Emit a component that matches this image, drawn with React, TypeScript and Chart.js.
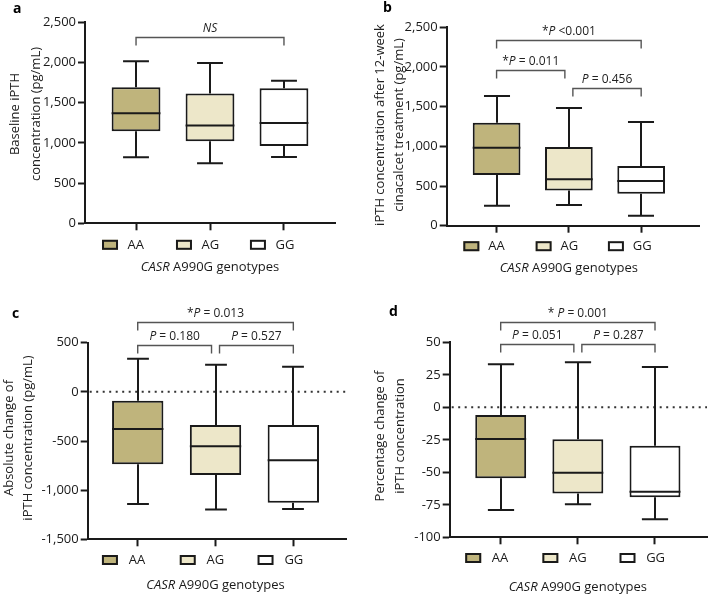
import React, { useEffect, useRef } from 'react';
import { Chart, registerables } from 'chart.js';

Chart.register(...registerables);

const INK = '#1a1a1a';
const FONT = '"Open Sans", "DejaVu Sans", sans-serif';

// ---- shared categories ----
const genotypes = ['AA', 'AG', 'GG'];
const boxColors = ['#BFB47C', '#EDE7C9', '#FFFFFF'];

// ---- panel a: baseline iPTH (pg/mL) ----
const aMin = [821, 746, 825];
const aQ1 = [1144, 1020, 962];
const aMedian = [1368, 1215, 1248];
const aQ3 = [1691, 1613, 1679];
const aMax = [2015, 1995, 1774];
const aTicks = [0, 500, 1000, 1500, 2000, 2500];

// ---- panel b: iPTH after 12-week cinacalcet (pg/mL) ----
const bMin = [252, 261, 126];
const bQ1 = [639, 445, 403];
const bMedian = [983, 584, 563];
const bQ3 = [1298, 992, 752];
const bMax = [1634, 1483, 1307];
const bTicks = [0, 500, 1000, 1500, 2000, 2500];

// ---- panel c: absolute change (pg/mL) ----
const cMin = [-1141, -1198, -1192];
const cQ1 = [-737, -846, -1127];
const cMedian = [-378, -554, -697];
const cQ3 = [-90, -337, -337];
const cMax = [337, 276, 256];
const cTicks = [-1500, -1000, -500, 0, 500];

// ---- panel d: percentage change ----
const dMin = [-79, -74.6, -86.2];
const dQ1 = [-54.6, -66.4, -69.2];
const dMedian = [-24.4, -50.3, -64.9];
const dQ3 = [-5.9, -24.6, -29.5];
const dMax = [33.1, 34.6, 31];
const dTicks = [-100, -75, -50, -25, 0, 25, 50];

// ---- significance brackets ----
type Bracket = { from: number; to: number; y: number; label: string };
const aBrackets: Bracket[] = [{ from: 0, to: 2, y: 2313, label: 'NS' }];
const bBrackets: Bracket[] = [
  { from: 0, to: 2, y: 2340, label: '*P <0.001' },
  { from: 0, to: 1, y: 1962, label: '*P = 0.011' },
  { from: 1, to: 2, y: 1731, label: 'P = 0.456' },
];
const cBrackets: Bracket[] = [
  { from: 0, to: 2, y: 714, label: '*P = 0.013' },
  { from: 0, to: 1, y: 476, label: 'P = 0.180' },
  { from: 1, to: 2, y: 476, label: 'P = 0.527' },
];
const dBrackets: Bracket[] = [
  { from: 0, to: 2, y: 65.9, label: '* P = 0.001' },
  { from: 0, to: 1, y: 48.5, label: 'P = 0.051' },
  { from: 1, to: 2, y: 48.5, label: 'P = 0.287' },
];

type Panel = {
  letter: string;
  letterPos: [number, number];
  offsetX: number;
  offsetY: number;
  width: number;
  height: number;
  area: { left: number; top: number; right: number; bottom: number };
  xMin: number;
  xMax: number;
  yMin: number;
  yMax: number;
  yTicks: number[];
  mins: number[];
  q1: number[];
  med: number[];
  q3: number[];
  maxs: number[];
  brackets: Bracket[];
  yTitle: string[];
  yTitleX: number[];
  yTitleY: number;
  legendDy: number;
  xTitleDy: number;
  zeroLine: boolean;
  capFrac: number;
};

const panels: Panel[] = [
  {
    letter: 'a', letterPos: [13, 9], offsetX: 0, offsetY: 0, width: 354, height: 295,
    area: { left: 85, top: 22.3, right: 335, bottom: 223.3 },
    xMin: -0.69, xMax: 2.69, yMin: 0, yMax: 2500, yTicks: aTicks,
    mins: aMin, q1: aQ1, med: aMedian, q3: aQ3, maxs: aMax, brackets: aBrackets,
    yTitle: ['Baseline iPTH', 'concentration (pg/mL)'], yTitleX: [15, 36], yTitleY: 114,
    legendDy: 21.5, xTitleDy: 43.7, zeroLine: false, capFrac: 0.35,
  },
  {
    letter: 'b', letterPos: [29, 8], offsetX: 354, offsetY: 0, width: 354, height: 295,
    area: { left: 92.7, top: 27.3, right: 345, bottom: 225.7 },
    xMin: -0.69, xMax: 2.8, yMin: 0, yMax: 2500, yTicks: bTicks,
    mins: bMin, q1: bQ1, med: bMedian, q3: bQ3, maxs: bMax, brackets: bBrackets,
    yTitle: ['iPTH concentration after 12-week', 'cinacalcet treatment (pg/mL)'], yTitleX: [26.7, 45.5], yTitleY: 125,
    legendDy: 20.5, xTitleDy: 42.3, zeroLine: false, capFrac: 0.36,
  },
  {
    letter: 'c', letterPos: [12, 19], offsetX: 0, offsetY: 295, width: 354, height: 300,
    area: { left: 87.7, top: 47.7, right: 346.7, bottom: 244.3 },
    xMin: -0.643, xMax: 2.686, yMin: -1500, yMax: 500, yTicks: cTicks,
    mins: cMin, q1: cQ1, med: cMedian, q3: cQ3, maxs: cMax, brackets: cBrackets,
    yTitle: ['Absolute change of', 'iPTH concentration (pg/mL)'], yTitleX: [9, 28.5], yTitleY: 143,
    legendDy: 20.7, xTitleDy: 45.7, zeroLine: true, capFrac: 0.28,
  },
  {
    letter: 'd', letterPos: [35, 17], offsetX: 354, offsetY: 295, width: 354, height: 300,
    area: { left: 95.7, top: 47.3, right: 353, bottom: 242.3 },
    xMin: -0.661, xMax: 2.674, yMin: -100, yMax: 50, yTicks: dTicks,
    mins: dMin, q1: dQ1, med: dMedian, q3: dQ3, maxs: dMax, brackets: dBrackets,
    yTitle: ['Percentage change of', 'iPTH concentration'], yTitleX: [26.7, 46.7], yTitleY: 141,
    legendDy: 20.7, xTitleDy: 50.4, zeroLine: true, capFrac: 0.34,
  },
];

function labelSegments(label: string): [string, boolean][] {
  if (label === 'NS') return [['NS', true]];
  const idx = label.indexOf('P');
  return [
    [label.slice(0, idx), false],
    ['P', true],
    [label.slice(idx + 1), false],
  ];
}

function drawSegments(ctx: CanvasRenderingContext2D, segs: [string, boolean][], cx: number, cy: number, size: number, align: 'center' | 'left') {
  const widths = segs.map(([t, it]) => {
    ctx.font = `${it ? 'italic ' : ''}${size}px ${FONT}`;
    return ctx.measureText(t).width;
  });
  const total = widths.reduce((s, w) => s + w, 0);
  let x = align === 'center' ? cx - total / 2 : cx;
  ctx.textAlign = 'left';
  ctx.textBaseline = 'middle';
  segs.forEach(([t, it], i) => {
    ctx.font = `${it ? 'italic ' : ''}${size}px ${FONT}`;
    ctx.fillText(t, x, cy);
    x += widths[i];
  });
}

function makePlugin(p: Panel) {
  return {
    id: 'boxExtras',
    beforeDatasetsDraw(chart: any) {
      const { ctx, chartArea } = chart;
      const x = chart.scales.x;
      const y = chart.scales.y;
      ctx.save();
      if (p.zeroLine) {
        const y0 = y.getPixelForValue(0);
        ctx.setLineDash([2, 4.5]);
        ctx.lineWidth = 2;
        ctx.strokeStyle = '#333';
        ctx.beginPath();
        ctx.moveTo(chartArea.left + 2, y0);
        ctx.lineTo(chartArea.right, y0);
        ctx.stroke();
        ctx.setLineDash([]);
      }
      const sp = x.getPixelForValue(1) - x.getPixelForValue(0);
      const cap = (sp * p.capFrac) / 2;
      ctx.strokeStyle = INK;
      ctx.lineWidth = 2;
      genotypes.forEach((_, i) => {
        const cx = Math.round(x.getPixelForValue(i));
        const yMin = y.getPixelForValue(p.mins[i]);
        const yMax = y.getPixelForValue(p.maxs[i]);
        const yQ1 = y.getPixelForValue(p.q1[i]);
        const yQ3 = y.getPixelForValue(p.q3[i]);
        ctx.beginPath();
        ctx.moveTo(cx, yQ3);
        ctx.lineTo(cx, yMax);
        ctx.moveTo(cx, yQ1);
        ctx.lineTo(cx, yMin);
        ctx.moveTo(cx - cap, yMax);
        ctx.lineTo(cx + cap, yMax);
        ctx.moveTo(cx - cap, yMin);
        ctx.lineTo(cx + cap, yMin);
        ctx.stroke();
      });
      ctx.restore();
    },
    afterDatasetsDraw(chart: any) {
      const { ctx } = chart;
      const x = chart.scales.x;
      const y = chart.scales.y;
      const meta = chart.getDatasetMeta(0);
      ctx.save();
      ctx.strokeStyle = INK;
      ctx.lineWidth = 2;
      genotypes.forEach((_, i) => {
        const el = meta.data[i];
        const cx = x.getPixelForValue(i);
        const half = el.width / 2;
        const ym = y.getPixelForValue(p.med[i]);
        ctx.beginPath();
        ctx.moveTo(cx - half, ym);
        ctx.lineTo(cx + half, ym);
        ctx.stroke();
      });
      ctx.restore();
    },
    afterDraw(chart: any) {
      const { ctx, chartArea } = chart;
      const x = chart.scales.x;
      const y = chart.scales.y;
      const sp = x.getPixelForValue(1) - x.getPixelForValue(0);
      ctx.save();
      // brackets
      p.brackets.forEach((b) => {
        let x1 = x.getPixelForValue(b.from);
        let x2 = x.getPixelForValue(b.to);
        if (b.to - b.from === 1) {
          if (b.from === 1) x1 += 4;
          else x2 -= 4;
        }
        const yy = Math.round(y.getPixelForValue(b.y)) + 0.5;
        ctx.strokeStyle = '#555';
        ctx.lineWidth = 1.4;
        ctx.beginPath();
        ctx.moveTo(x1, yy + 8);
        ctx.lineTo(x1, yy);
        ctx.lineTo(x2, yy);
        ctx.lineTo(x2, yy + 8);
        ctx.stroke();
        ctx.fillStyle = '#222';
        drawSegments(ctx, labelSegments(b.label), (x1 + x2) / 2, yy - 8.5, 12, 'center');
      });
      // legend
      const ly = chartArea.bottom + p.legendDy;
      genotypes.forEach((g, i) => {
        const cx = x.getPixelForValue(i);
        const bx = cx - 0.46 * sp;
        ctx.fillStyle = boxColors[i];
        ctx.fillRect(bx, ly - 5, 16, 10);
        ctx.strokeStyle = INK;
        ctx.lineWidth = 2;
        ctx.strokeRect(bx + 1, ly - 4, 14, 8);
        ctx.fillStyle = INK;
        ctx.font = `13px ${FONT}`;
        ctx.textAlign = 'left';
        ctx.textBaseline = 'middle';
        ctx.fillText(g, cx - 0.115 * sp, ly + 0.5);
      });
      // x title
      ctx.fillStyle = INK;
      drawSegments(ctx, [['CASR', true], [' A990G genotypes', false]], x.getPixelForValue(1), chartArea.bottom + p.xTitleDy, 13, 'center');
      // y title
      ctx.fillStyle = '#222';
      ctx.font = `13px ${FONT}`;
      ctx.textAlign = 'center';
      ctx.textBaseline = 'middle';
      p.yTitle.forEach((t, i) => {
        ctx.save();
        ctx.translate(p.yTitleX[i], p.yTitleY);
        ctx.rotate(-Math.PI / 2);
        ctx.fillText(t, 0, 0);
        ctx.restore();
      });
      // panel letter
      ctx.fillStyle = '#000';
      ctx.font = `bold 14px ${FONT}`;
      ctx.textAlign = 'left';
      ctx.textBaseline = 'middle';
      ctx.fillText(p.letter, p.letterPos[0], p.letterPos[1]);
      ctx.restore();
    },
  };
}

const Y_AXIS_W = 50;
const X_AXIS_H = 8;

function PanelChart({ p }: { p: Panel }) {
  const ref = useRef<HTMLCanvasElement | null>(null);
  useEffect(() => {
    if (!ref.current) return;
    const axisCommon = {
      grid: { drawOnChartArea: false, drawTicks: true, tickLength: 7, tickWidth: 2, tickColor: INK, offset: false },
      border: { display: true, color: INK, width: 2 },
    };
    const chart = new Chart(ref.current, {
      type: 'bar',
      data: {
        datasets: [
          {
            data: genotypes.map((_, i) => ({ x: i, y: [p.q1[i], p.q3[i]] })) as any,
            backgroundColor: boxColors,
            borderColor: INK,
            borderWidth: 2,
            borderSkipped: false,
            barPercentage: 0.66,
            categoryPercentage: 1,
          },
        ],
      },
      options: {
        animation: false,
        responsive: false,
        maintainAspectRatio: false,
        devicePixelRatio: 1,
        events: [],
        layout: {
          padding: {
            left: p.area.left - Y_AXIS_W,
            top: p.area.top,
            right: p.width - p.area.right,
            bottom: p.height - p.area.bottom - X_AXIS_H,
          },
        },
        plugins: { legend: { display: false }, tooltip: { enabled: false }, title: { display: false } },
        scales: {
          x: {
            type: 'linear',
            min: p.xMin,
            max: p.xMax,
            offset: false,
            afterBuildTicks: (s: any) => {
              s.ticks = genotypes.map((_, i) => ({ value: i }));
            },
            afterFit: (s: any) => {
              s.height = X_AXIS_H;
            },
            ticks: { display: false },
            ...axisCommon,
          },
          y: {
            type: 'linear',
            min: p.yMin,
            max: p.yMax,
            afterBuildTicks: (s: any) => {
              s.ticks = p.yTicks.map((v) => ({ value: v }));
            },
            afterFit: (s: any) => {
              s.width = Y_AXIS_W;
            },
            ticks: {
              callback: (v: any) => Number(v).toLocaleString('en-US'),
              color: INK,
              font: { family: FONT, size: 13 },
              padding: 2,
            },
            ...axisCommon,
          },
        },
      } as any,
      plugins: [makePlugin(p)],
    });
    return () => chart.destroy();
  }, [p]);
  return (
    <canvas
      ref={ref}
      width={p.width}
      height={p.height}
      style={{ position: 'absolute', left: p.offsetX, top: p.offsetY, width: p.width, height: p.height }}
    />
  );
}

export default function App() {
  return (
    <div style={{ position: 'absolute', left: 0, top: 0, width: 708, height: 595, background: '#fff', overflow: 'hidden' }}>
      {panels.map((p) => (
        <PanelChart key={p.letter} p={p} />
      ))}
    </div>
  );
}
